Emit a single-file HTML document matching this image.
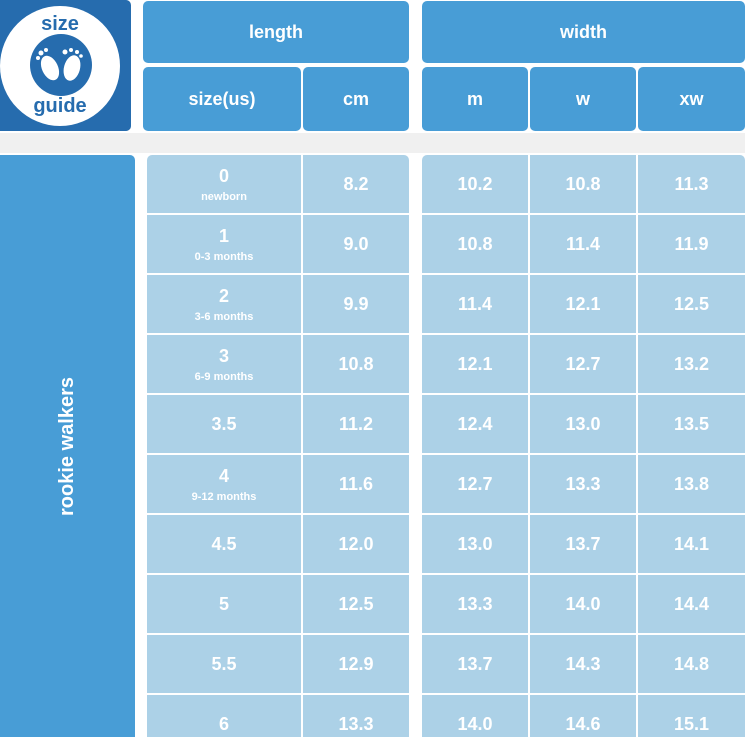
<!DOCTYPE html>
<html style="margin:0;width:745px;height:737px;overflow:hidden"><head><meta charset="utf-8"><style>
body{margin:0;width:745px;height:737px;overflow:hidden;background:#fff;font-family:"Liberation Sans",sans-serif;position:relative}
.c{position:absolute;color:#fff;font-weight:bold;display:flex;flex-direction:column;align-items:center;justify-content:center;text-align:center}
.h{background:#489dd6;border-radius:5px;font-size:18px}
.d{background:#acd1e7;font-size:18px}
.d small{font-size:11px;margin-top:4px;font-weight:bold}
</style></head><body>
<div style="position:absolute;left:0;top:133px;width:745px;height:20px;background:#f0f0f0"></div>
<div style="position:absolute;left:0;top:0;width:131px;height:131px;background:#266cae;border-radius:0 5px 5px 0"></div>
<svg style="position:absolute;left:0;top:0" width="131" height="131">
<circle cx="60" cy="66" r="60" fill="#fff"/>
<circle cx="61" cy="65" r="31" fill="#266cae"/>
<ellipse cx="50" cy="68" rx="8" ry="13" fill="#fff" transform="rotate(-25 50 68)"/>
<ellipse cx="72" cy="68" rx="8" ry="13" fill="#fff" transform="rotate(15 72 68)"/>
<circle cx="41" cy="53" r="2.5" fill="#fff"/><circle cx="46" cy="50" r="2" fill="#fff"/><circle cx="38" cy="58" r="2" fill="#fff"/>
<circle cx="65" cy="52" r="2.5" fill="#fff"/><circle cx="71" cy="50" r="2" fill="#fff"/><circle cx="77" cy="52" r="2" fill="#fff"/><circle cx="81" cy="56" r="1.8" fill="#fff"/>
<text x="60" y="30" text-anchor="middle" font-family="Liberation Sans" font-weight="bold" font-size="20" fill="#266cae">size</text>
<text x="60" y="112" text-anchor="middle" font-family="Liberation Sans" font-weight="bold" font-size="20" fill="#266cae">guide</text>
</svg>
<div class="c h" style="left:143px;top:1px;width:266px;height:62px">length</div>
<div class="c h" style="left:422px;top:1px;width:323px;height:62px">width</div>
<div class="c h" style="left:143px;top:67px;width:158px;height:64px">size(us)</div>
<div class="c h" style="left:303px;top:67px;width:106px;height:64px">cm</div>
<div class="c h" style="left:422px;top:67px;width:106px;height:64px">m</div>
<div class="c h" style="left:530px;top:67px;width:106px;height:64px">w</div>
<div class="c h" style="left:638px;top:67px;width:107px;height:64px">xw</div>
<div class="c" style="left:0;top:155px;width:135px;height:582px;background:#489dd6;border-radius:0 5px 0 0"><div style="transform:rotate(-90deg);white-space:nowrap;font-size:20px">rookie walkers</div></div>

<div class="c d" style="left:147px;top:155px;width:154px;height:58px;border-radius:5px 0 0 0">0<small>newborn</small></div>
<div class="c d" style="left:303px;top:155px;width:106px;height:58px;border-radius:0 5px 0 0">8.2</div>
<div class="c d" style="left:422px;top:155px;width:106px;height:58px;border-radius:5px 0 0 0">10.2</div>
<div class="c d" style="left:530px;top:155px;width:106px;height:58px">10.8</div>
<div class="c d" style="left:638px;top:155px;width:107px;height:58px;border-radius:0 5px 0 0">11.3</div>

<div class="c d" style="left:147px;top:215px;width:154px;height:58px">1<small>0-3 months</small></div>
<div class="c d" style="left:303px;top:215px;width:106px;height:58px">9.0</div>
<div class="c d" style="left:422px;top:215px;width:106px;height:58px">10.8</div>
<div class="c d" style="left:530px;top:215px;width:106px;height:58px">11.4</div>
<div class="c d" style="left:638px;top:215px;width:107px;height:58px">11.9</div>

<div class="c d" style="left:147px;top:275px;width:154px;height:58px">2<small>3-6 months</small></div>
<div class="c d" style="left:303px;top:275px;width:106px;height:58px">9.9</div>
<div class="c d" style="left:422px;top:275px;width:106px;height:58px">11.4</div>
<div class="c d" style="left:530px;top:275px;width:106px;height:58px">12.1</div>
<div class="c d" style="left:638px;top:275px;width:107px;height:58px">12.5</div>

<div class="c d" style="left:147px;top:335px;width:154px;height:58px">3<small>6-9 months</small></div>
<div class="c d" style="left:303px;top:335px;width:106px;height:58px">10.8</div>
<div class="c d" style="left:422px;top:335px;width:106px;height:58px">12.1</div>
<div class="c d" style="left:530px;top:335px;width:106px;height:58px">12.7</div>
<div class="c d" style="left:638px;top:335px;width:107px;height:58px">13.2</div>

<div class="c d" style="left:147px;top:395px;width:154px;height:58px">3.5</div>
<div class="c d" style="left:303px;top:395px;width:106px;height:58px">11.2</div>
<div class="c d" style="left:422px;top:395px;width:106px;height:58px">12.4</div>
<div class="c d" style="left:530px;top:395px;width:106px;height:58px">13.0</div>
<div class="c d" style="left:638px;top:395px;width:107px;height:58px">13.5</div>

<div class="c d" style="left:147px;top:455px;width:154px;height:58px">4<small>9-12 months</small></div>
<div class="c d" style="left:303px;top:455px;width:106px;height:58px">11.6</div>
<div class="c d" style="left:422px;top:455px;width:106px;height:58px">12.7</div>
<div class="c d" style="left:530px;top:455px;width:106px;height:58px">13.3</div>
<div class="c d" style="left:638px;top:455px;width:107px;height:58px">13.8</div>

<div class="c d" style="left:147px;top:515px;width:154px;height:58px">4.5</div>
<div class="c d" style="left:303px;top:515px;width:106px;height:58px">12.0</div>
<div class="c d" style="left:422px;top:515px;width:106px;height:58px">13.0</div>
<div class="c d" style="left:530px;top:515px;width:106px;height:58px">13.7</div>
<div class="c d" style="left:638px;top:515px;width:107px;height:58px">14.1</div>

<div class="c d" style="left:147px;top:575px;width:154px;height:58px">5</div>
<div class="c d" style="left:303px;top:575px;width:106px;height:58px">12.5</div>
<div class="c d" style="left:422px;top:575px;width:106px;height:58px">13.3</div>
<div class="c d" style="left:530px;top:575px;width:106px;height:58px">14.0</div>
<div class="c d" style="left:638px;top:575px;width:107px;height:58px">14.4</div>

<div class="c d" style="left:147px;top:635px;width:154px;height:58px">5.5</div>
<div class="c d" style="left:303px;top:635px;width:106px;height:58px">12.9</div>
<div class="c d" style="left:422px;top:635px;width:106px;height:58px">13.7</div>
<div class="c d" style="left:530px;top:635px;width:106px;height:58px">14.3</div>
<div class="c d" style="left:638px;top:635px;width:107px;height:58px">14.8</div>

<div class="c d" style="left:147px;top:695px;width:154px;height:58px">6</div>
<div class="c d" style="left:303px;top:695px;width:106px;height:58px">13.3</div>
<div class="c d" style="left:422px;top:695px;width:106px;height:58px">14.0</div>
<div class="c d" style="left:530px;top:695px;width:106px;height:58px">14.6</div>
<div class="c d" style="left:638px;top:695px;width:107px;height:58px">15.1</div>
</body></html>
